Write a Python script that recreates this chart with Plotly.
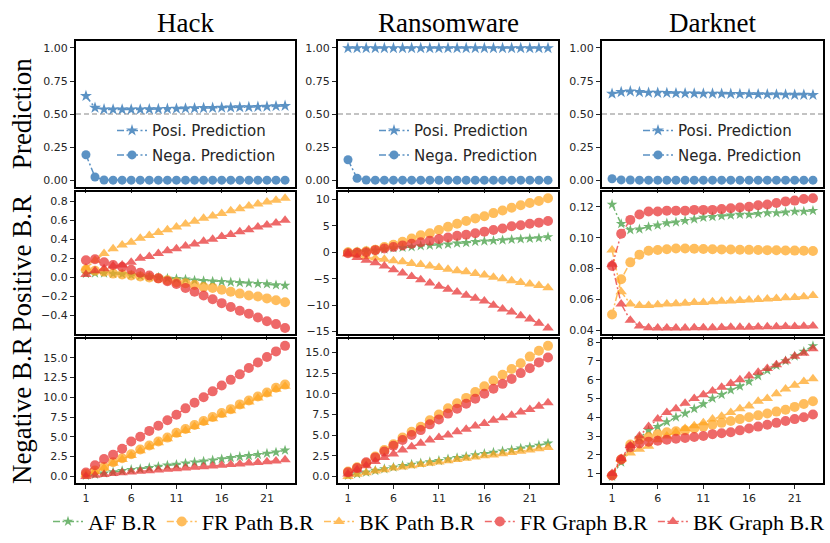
import plotly.graph_objects as go

x_vals = list(range(1, 24))
x_ticks = [1, 6, 11, 16, 21]
datasets = ["Hack", "Ransomware", "Darknet"]
row_labels = ["Prediction", "Positive B.R", "Negative B.R"]
series_names = ["AF B.R", "FR Path B.R", "BK Path B.R", "FR Graph B.R", "BK Graph B.R"]
pred_names = ["Posi. Prediction", "Nega. Prediction"]

# ---- Prediction row ----
hack_posi_pred = [0.637, 0.548, 0.536, 0.535, 0.535, 0.535, 0.535, 0.537, 0.538, 0.54, 0.541, 0.543, 0.544, 0.546, 0.547, 0.549, 0.55, 0.552, 0.553, 0.555, 0.557, 0.56, 0.562]
hack_nega_pred = [0.193, 0.025, 0.002, 0.001, 0.001, 0.001, 0.001, 0.001, 0.001, 0.001, 0.001, 0.001, 0.001, 0.001, 0.001, 0.001, 0.001, 0.001, 0.001, 0.001, 0.001, 0.001, 0.001]
ran_posi_pred = [0.999, 0.999, 0.999, 0.999, 0.999, 0.999, 0.999, 0.999, 0.999, 0.999, 0.999, 0.999, 0.999, 0.999, 0.999, 0.999, 0.999, 0.999, 0.999, 0.999, 0.999, 0.999, 0.999]
ran_nega_pred = [0.155, 0.015, 0.002, 0.001, 0.001, 0.001, 0.001, 0.001, 0.001, 0.001, 0.001, 0.001, 0.001, 0.001, 0.001, 0.001, 0.001, 0.001, 0.001, 0.001, 0.001, 0.001, 0.001]
dk_posi_pred = [0.654, 0.667, 0.672, 0.667, 0.662, 0.661, 0.66, 0.658, 0.657, 0.656, 0.655, 0.655, 0.654, 0.653, 0.652, 0.651, 0.65, 0.649, 0.648, 0.647, 0.646, 0.646, 0.645]
dk_nega_pred = [0.012, 0.003, 0.002, 0.001, 0.001, 0.001, 0.001, 0.001, 0.001, 0.001, 0.001, 0.001, 0.001, 0.001, 0.001, 0.001, 0.001, 0.001, 0.001, 0.001, 0.001, 0.001, 0.001]

# ---- Positive B.R row ----
hack_af_pos = [0.04, 0.045, 0.045, 0.04, 0.035, 0.025, 0.015, 0.005, 0.0, -0.01, -0.015, -0.02, -0.03, -0.035, -0.04, -0.045, -0.05, -0.055, -0.06, -0.065, -0.07, -0.08, -0.085]
hack_frpath_pos = [0.08, 0.07, 0.06, 0.04, 0.03, 0.02, 0.01, 0.0, -0.01, -0.03, -0.05, -0.06, -0.08, -0.10, -0.11, -0.13, -0.15, -0.17, -0.19, -0.20, -0.22, -0.24, -0.26]
hack_bkpath_pos = [0.1, 0.18, 0.25, 0.3, 0.34, 0.37, 0.41, 0.44, 0.47, 0.5, 0.53, 0.56, 0.59, 0.62, 0.645, 0.67, 0.70, 0.72, 0.75, 0.77, 0.79, 0.81, 0.83]
hack_frgraph_pos = [0.18, 0.19, 0.16, 0.13, 0.11, 0.08, 0.05, 0.02, -0.01, -0.04, -0.07, -0.11, -0.15, -0.19, -0.23, -0.27, -0.31, -0.35, -0.38, -0.42, -0.46, -0.49, -0.53]
hack_bkgraph_pos = [0.03, 0.07, 0.09, 0.12, 0.13, 0.16, 0.20, 0.22, 0.25, 0.28, 0.30, 0.33, 0.35, 0.38, 0.40, 0.43, 0.45, 0.48, 0.50, 0.53, 0.55, 0.57, 0.60]

ran_af_pos = [0.0, 0.1, 0.2, 0.4, 0.6, 0.8, 0.9, 1.0, 1.2, 1.3, 1.4, 1.5, 1.7, 1.8, 2.0, 2.1, 2.2, 2.3, 2.4, 2.5, 2.6, 2.7, 2.9]
ran_frpath_pos = [0.0, 0.0, 0.2, 0.5, 1.0, 1.4, 2.0, 2.6, 3.2, 3.6, 4.2, 4.8, 5.4, 5.9, 6.4, 6.8, 7.4, 7.9, 8.4, 8.9, 9.3, 9.7, 10.2]
ran_bkpath_pos = [-0.3, -0.5, -0.8, -1.1, -1.3, -1.6, -1.8, -2.1, -2.3, -2.6, -2.9, -3.2, -3.5, -3.7, -4.0, -4.3, -4.7, -5.0, -5.4, -5.7, -6.0, -6.3, -6.7]
ran_frgraph_pos = [-0.2, -0.1, 0.0, 0.4, 0.7, 1.0, 1.3, 1.6, 1.9, 2.2, 2.5, 2.8, 3.1, 3.3, 3.6, 3.9, 4.2, 4.5, 4.9, 5.1, 5.4, 5.6, 5.9]
ran_bkgraph_pos = [-0.3, -1.0, -1.5, -2.0, -2.6, -3.3, -3.9, -4.6, -5.2, -5.8, -6.4, -7.0, -7.5, -8.1, -8.7, -9.2, -10.0, -10.7, -11.3, -12.0, -12.6, -13.4, -14.3]

dk_af_pos = [0.1215, 0.109, 0.105, 0.1055, 0.107, 0.108, 0.1095, 0.11, 0.111, 0.112, 0.113, 0.1135, 0.114, 0.1145, 0.115, 0.115, 0.1155, 0.116, 0.116, 0.1165, 0.117, 0.117, 0.1175]
dk_frpath_pos = [0.0502, 0.073, 0.084, 0.089, 0.0915, 0.092, 0.0925, 0.093, 0.093, 0.0928, 0.0926, 0.0925, 0.0924, 0.0923, 0.0922, 0.0921, 0.092, 0.0919, 0.0918, 0.0917, 0.0916, 0.0915, 0.0914]
dk_bkpath_pos = [0.092, 0.065, 0.057, 0.056, 0.056, 0.0565, 0.057, 0.0572, 0.0575, 0.058, 0.058, 0.0585, 0.0588, 0.059, 0.0593, 0.0596, 0.06, 0.0603, 0.0606, 0.061, 0.0613, 0.0617, 0.0625]
dk_frgraph_pos = [0.0816, 0.1025, 0.1115, 0.115, 0.117, 0.117, 0.1175, 0.1175, 0.1175, 0.118, 0.118, 0.118, 0.1185, 0.119, 0.1195, 0.12, 0.121, 0.1215, 0.1225, 0.1235, 0.124, 0.125, 0.1255]
dk_bkgraph_pos = [0.0827, 0.057, 0.0464, 0.0428, 0.0417, 0.0415, 0.0415, 0.0415, 0.0415, 0.0416, 0.0416, 0.0417, 0.0418, 0.0419, 0.042, 0.042, 0.0421, 0.0422, 0.0423, 0.0424, 0.0425, 0.0426, 0.0428]

# ---- Negative B.R row ----
hack_af_neg = [0.1, 0.25, 0.4, 0.55, 0.7, 0.85, 0.95, 1.1, 1.25, 1.4, 1.5, 1.65, 1.8, 1.9, 2.05, 2.2, 2.35, 2.5, 2.6, 2.75, 2.9, 3.05, 3.3]
hack_frpath_neg = [0.3, 0.75, 1.2, 1.8, 2.3, 2.8, 3.4, 3.9, 4.4, 4.9, 5.5, 6.0, 6.5, 7.0, 7.5, 8.0, 8.5, 9.1, 9.6, 10.1, 10.6, 11.2, 11.6]
hack_bkpath_neg = [0.2, 0.6, 1.05, 1.65, 2.15, 2.65, 3.25, 3.75, 4.25, 4.75, 5.3, 5.8, 6.3, 6.8, 7.3, 7.8, 8.3, 8.9, 9.4, 9.9, 10.4, 11.0, 11.4]
hack_frgraph_neg = [0.5, 1.4, 2.2, 2.75, 3.5, 4.4, 5.0, 5.75, 6.4, 7.1, 7.8, 8.6, 9.3, 10.0, 10.75, 11.5, 12.2, 12.9, 13.7, 14.4, 15.1, 15.8, 16.5]
hack_bkgraph_neg = [0.0, 0.15, 0.25, 0.35, 0.45, 0.55, 0.65, 0.72, 0.8, 0.9, 0.98, 1.07, 1.15, 1.22, 1.32, 1.4, 1.5, 1.58, 1.68, 1.76, 1.85, 1.95, 2.1]

ran_af_neg = [0.1, 0.3, 0.5, 0.7, 0.9, 1.1, 1.3, 1.45, 1.6, 1.75, 1.9, 2.1, 2.25, 2.4, 2.6, 2.75, 2.9, 3.05, 3.2, 3.4, 3.55, 3.75, 4.0]
ran_frpath_neg = [0.6, 1.1, 1.6, 2.4, 3.2, 3.9, 4.7, 5.4, 6.0, 6.8, 7.5, 8.25, 8.85, 9.5, 10.2, 10.9, 11.6, 12.3, 13.0, 13.7, 14.5, 15.2, 15.8]
ran_bkpath_neg = [0.0, 0.25, 0.45, 0.65, 0.8, 1.0, 1.15, 1.3, 1.45, 1.6, 1.75, 1.9, 2.05, 2.2, 2.35, 2.5, 2.6, 2.75, 2.9, 3.05, 3.2, 3.35, 3.5]
ran_frgraph_neg = [0.5, 1.0, 1.7, 2.3, 3.0, 3.7, 4.4, 5.0, 5.6, 6.3, 6.9, 7.6, 8.2, 8.8, 9.4, 10.0, 10.6, 11.2, 11.8, 12.5, 13.1, 13.8, 14.4]
ran_bkgraph_neg = [0.3, 0.8, 1.3, 1.8, 2.3, 2.7, 3.2, 3.6, 4.0, 4.4, 4.7, 5.0, 5.4, 5.7, 6.1, 6.4, 6.8, 7.1, 7.4, 7.8, 8.1, 8.5, 8.9]

dk_af_neg = [0.85, 1.6, 2.4, 2.9, 3.3, 3.5, 3.75, 4.0, 4.2, 4.45, 4.7, 5.0, 5.2, 5.45, 5.65, 5.9, 6.2, 6.5, 6.75, 7.0, 7.25, 7.5, 7.8]
dk_frpath_neg = [0.9, 1.75, 2.55, 2.8, 2.95, 3.1, 3.2, 3.25, 3.3, 3.4, 3.5, 3.6, 3.7, 3.8, 3.9, 4.0, 4.1, 4.2, 4.3, 4.4, 4.55, 4.7, 4.85]
dk_bkpath_neg = [0.95, 1.75, 2.1, 2.3, 2.45, 2.8, 3.0, 3.2, 3.4, 3.55, 3.7, 3.9, 4.05, 4.25, 4.45, 4.6, 4.85, 5.0, 5.25, 5.5, 5.7, 5.9, 6.05]
dk_frgraph_neg = [0.9, 1.75, 2.4, 2.6, 2.7, 2.75, 2.8, 2.85, 2.9, 2.95, 3.0, 3.1, 3.15, 3.2, 3.3, 3.4, 3.5, 3.6, 3.7, 3.8, 3.9, 4.0, 4.15]
dk_bkgraph_neg = [1.0, 1.8, 2.5, 3.0, 3.5, 3.9, 4.25, 4.45, 4.75, 5.0, 5.2, 5.4, 5.6, 5.8, 6.0, 6.2, 6.4, 6.6, 6.8, 7.0, 7.25, 7.4, 7.65]

pred_data = [
    [hack_posi_pred, hack_nega_pred],
    [ran_posi_pred, ran_nega_pred],
    [dk_posi_pred, dk_nega_pred],
]
pos_data = [
    [hack_af_pos, hack_frpath_pos, hack_bkpath_pos, hack_frgraph_pos, hack_bkgraph_pos],
    [ran_af_pos, ran_frpath_pos, ran_bkpath_pos, ran_frgraph_pos, ran_bkgraph_pos],
    [dk_af_pos, dk_frpath_pos, dk_bkpath_pos, dk_frgraph_pos, dk_bkgraph_pos],
]
neg_data = [
    [hack_af_neg, hack_frpath_neg, hack_bkpath_neg, hack_frgraph_neg, hack_bkgraph_neg],
    [ran_af_neg, ran_frpath_neg, ran_bkpath_neg, ran_frgraph_neg, ran_bkgraph_neg],
    [dk_af_neg, dk_frpath_neg, dk_bkpath_neg, dk_frgraph_neg, dk_bkgraph_neg],
]

# ---- styling ----
W, H = 830, 543
BLUE = "#3f7fba"
series_colors = ["#3c9a3c", "#ffa51f", "#ffa51f", "#e83030", "#e83030"]
series_symbols = ["star", "circle", "triangle-up", "circle", "triangle-up"]
series_sizes = [8, 10, 10, 10, 10]
DASH = "7px,2.5px,2px,2.5px"
TICKFONT = dict(family="DejaVu Sans", size=11, color="#262626")
SERIF = "Liberation Serif"

col_px = [(76, 295), (338, 558), (602, 823)]
row_px = [(39, 187), (192, 337), (342, 488)]

fig = go.Figure()
layout = {}


def axname(r, c):
    i = r * 3 + c + 1
    return ("x" if i == 1 else f"x{i}"), ("y" if i == 1 else f"y{i}"), ("" if i == 1 else str(i))


def yrange(lists):
    lo = min(min(l) for l in lists)
    hi = max(max(l) for l in lists)
    pad = (hi - lo) * 0.05
    return [lo - pad, hi + pad]


ytick_specs = {
    (1, 0): dict(tickvals=[-0.4, -0.2, 0.0, 0.2, 0.4, 0.6, 0.8], tickformat=".1f"),
    (1, 1): dict(tickvals=[-15, -10, -5, 0, 5, 10], tickformat="d"),
    (1, 2): dict(tickvals=[0.04, 0.06, 0.08, 0.10, 0.12], tickformat=".2f"),
    (2, 0): dict(tickvals=[0, 2.5, 5, 7.5, 10, 12.5, 15], tickformat=".1f"),
    (2, 1): dict(tickvals=[0, 2.5, 5, 7.5, 10, 12.5, 15], tickformat=".1f"),
    (2, 2): dict(tickvals=[1, 2, 3, 4, 5, 6, 7, 8], tickformat="d"),
}

for r in range(3):
    for c in range(3):
        xn, yn, suf = axname(r, c)
        x0, x1 = col_px[c]
        y0, y1 = row_px[r]
        if r == 0:
            yr = [-0.05, 1.05]
            yt = dict(tickvals=[0, 0.25, 0.5, 0.75, 1.0], tickformat=".2f")
        elif r == 1:
            yr = yrange(pos_data[c])
            yt = ytick_specs[(r, c)]
        else:
            yr = yrange(neg_data[c])
            yt = ytick_specs[(r, c)]
        layout["xaxis" + suf] = dict(
            domain=[x0 / W, x1 / W], anchor=yn, range=[-0.1, 24.1],
            tickvals=x_ticks, showticklabels=(r == 2),
            ticks="outside", ticklen=4, tickwidth=1, tickcolor="#262626",
            showline=True, mirror=True, linecolor="black", linewidth=2,
            showgrid=False, zeroline=False, tickfont=TICKFONT,
        )
        layout["yaxis" + suf] = dict(
            domain=[1 - y1 / H, 1 - y0 / H], anchor=xn, range=yr,
            ticks="outside", ticklen=4, tickwidth=1, tickcolor="#262626",
            showline=True, mirror=True, linecolor="black", linewidth=2,
            showgrid=False, zeroline=False, tickfont=TICKFONT, **yt,
        )

# prediction row
pred_symbols = ["star", "circle"]
pred_sizes = [9, 9]
for c in range(3):
    xn, yn, suf = axname(0, c)
    lname = "legend" + str(c + 2)
    for k in range(2):
        fig.add_trace(go.Scatter(
            x=x_vals, y=pred_data[c][k], name=pred_names[k], xaxis=xn, yaxis=yn,
            mode="lines+markers", legend=lname, legendgroup=f"p{c}{k}",
            line=dict(color=BLUE, width=1.5, dash=DASH),
            marker=dict(symbol=pred_symbols[k], size=pred_sizes[k], color=BLUE, line=dict(width=0)),
            opacity=0.85,
        ))
    layout["shapes"] = layout.get("shapes", []) + [dict(
        type="line", xref=f"{xn} domain", yref=yn, x0=0, x1=1, y0=0.5, y1=0.5,
        line=dict(color="#b0b0b0", width=1.5, dash="5px,3px"), layer="below")]
    lx = col_px[c][0] + 36
    layout[lname] = dict(
        x=lx / W, xanchor="left", y=1 - 113 / H, yanchor="top",
        bgcolor="rgba(0,0,0,0)", font=dict(family="DejaVu Sans", size=15, color="#262626"),
        tracegroupgap=2, itemwidth=30,
    )

# B.R rows
for r, data in [(1, pos_data), (2, neg_data)]:
    for c in range(3):
        xn, yn, suf = axname(r, c)
        for k in range(5):
            fig.add_trace(go.Scatter(
                x=x_vals, y=data[c][k], name=series_names[k], xaxis=xn, yaxis=yn,
                mode="lines+markers", legend="legend",
                showlegend=(r == 1 and c == 0),
                line=dict(color=series_colors[k], width=1.5, dash=DASH),
                marker=dict(symbol=series_symbols[k], size=series_sizes[k],
                            color=series_colors[k], line=dict(width=0)),
                opacity=0.72,
            ))

annotations = []
for c, name in enumerate(datasets):
    annotations.append(dict(
        text=name, x=(col_px[c][0] + col_px[c][1]) / 2 / W, y=1 - 20 / H,
        xref="paper", yref="paper", showarrow=False, xanchor="center", yanchor="middle",
        font=dict(family=SERIF, size=27, color="black")))
row_centers = [113, 265, 415]
for r, name in enumerate(row_labels):
    annotations.append(dict(
        text=name, x=22 / W, y=1 - row_centers[r] / H, textangle=-90,
        xref="paper", yref="paper", showarrow=False, xanchor="center", yanchor="middle",
        font=dict(family=SERIF, size=27, color="black")))

layout["legend"] = dict(
    orientation="h", x=50 / W, xanchor="left", y=1 - 506 / H, yanchor="top",
    font=dict(family=SERIF, size=22, color="black"), bgcolor="rgba(0,0,0,0)",
    itemwidth=30, tracegroupgap=0,
)

fig.update_layout(
    width=W, height=H, margin=dict(l=0, r=0, t=0, b=0),
    paper_bgcolor="white", plot_bgcolor="white",
    annotations=annotations, **layout,
)

fig.write_html("out.html", config={"displayModeBar": False},
               post_script="document.body.style.margin='0';document.body.style.overflow='hidden';")
